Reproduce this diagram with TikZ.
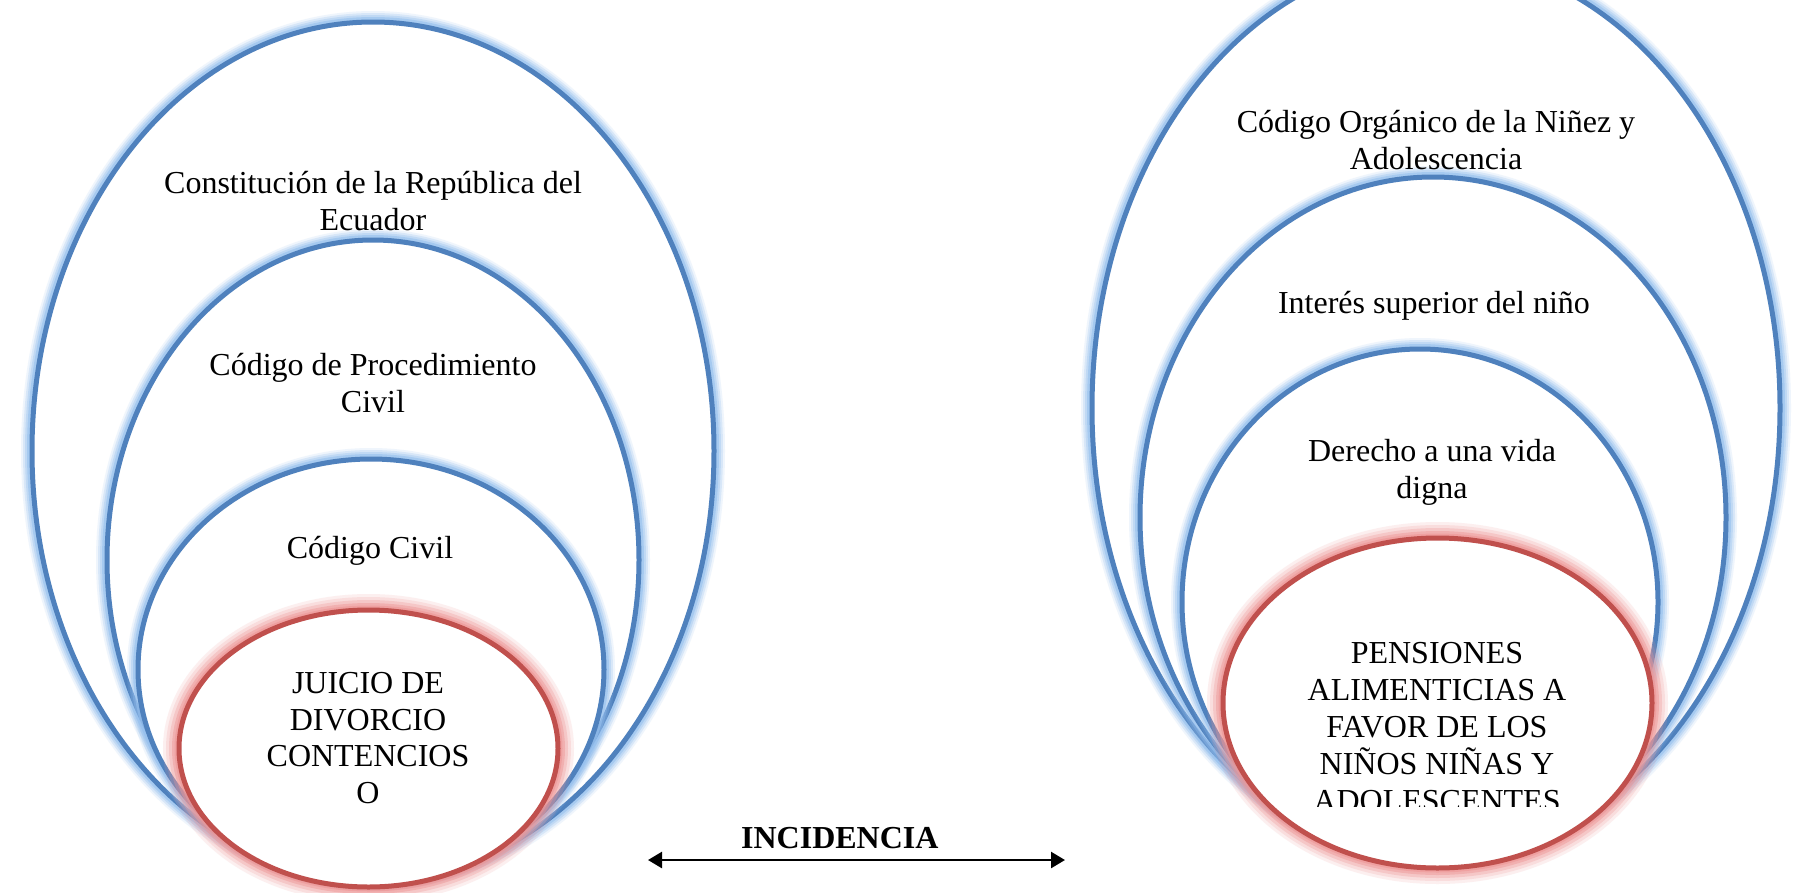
\documentclass[tikz,border=0pt]{standalone}
\usepackage{fontspec}
\setmainfont{Liberation Serif}
\usetikzlibrary{shapes.geometric, arrows.meta}
\definecolor{ringblue}{RGB}{79,129,189}
\definecolor{glowblue}{RGB}{150,192,238}
\definecolor{ringred}{RGB}{192,80,77}
\definecolor{glowred}{RGB}{238,150,150}

\begin{document}
\begin{tikzpicture}[x=1pt, y=-1pt, >={Triangle[length=14pt, width=16pt]},
  ring/.style={ellipse, draw=ringblue, line width=5pt, fill=white, inner sep=0pt,
    preaction={draw=glowblue, line width=22pt, opacity=0.15},
    preaction={draw=glowblue, line width=18pt, opacity=0.25},
    preaction={draw=glowblue, line width=14pt, opacity=0.35},
    preaction={draw=glowblue, line width=10pt, opacity=0.6}},
  core/.style={ellipse, draw=ringred, line width=5pt, fill=white, inner sep=0pt,
    preaction={draw=glowred, line width=32pt, opacity=0.15},
    preaction={draw=glowred, line width=26pt, opacity=0.2},
    preaction={draw=glowred, line width=20pt, opacity=0.3},
    preaction={draw=glowred, line width=14pt, opacity=0.45},
    preaction={draw=glowred, line width=9pt, opacity=0.6}},
  lbl/.style={align=center, inner sep=0pt, font=\fontsize{32}{36.8}\selectfont}]

  \useasboundingbox (0,0) rectangle (1802,892);
  \fill[white] (0,0) rectangle (1802,892);

  % left side
  \node[ring, minimum width=682pt, minimum height=858pt] (ringConst) at (373,451) {};
  \node[ring, minimum width=532pt, minimum height=640pt] (ringProc) at (373,560) {};
  \node[ring, minimum width=466pt, minimum height=421pt] (ringCivil) at (371,669.5) {};
  \node[core, minimum width=379pt, minimum height=277pt] (ringJuicio) at (368.5,748.5) {};

  \node[lbl] (txtConst) at (373,201) {Constitución de la República del\\Ecuador};
  \node[lbl] (txtProc) at (373,383) {Código de Procedimiento\\Civil};
  \node[lbl] (txtCivil) at (370,551) {Código Civil};
  \node[lbl] (txtJuicio) at (368,738) {JUICIO DE\\DIVORCIO\\CONTENCIOS\\O};

  % right side
  \node[ring, minimum width=688pt, minimum height=900pt] (ringCona) at (1436,408) {};
  \node[ring, minimum width=586pt, minimum height=681pt] (ringInteres) at (1433,517.5) {};
  \node[ring, minimum width=476pt, minimum height=506pt] (ringDerecho) at (1420,602) {};
  \node[core, minimum width=429pt, minimum height=330pt] (ringPension) at (1437.5,703) {};

  \node[lbl] (txtCona) at (1436,140) {Código Orgánico de la Niñez y\\Adolescencia};
  \node[lbl] (txtInteres) at (1434,306) {Interés superior del niño};
  \node[lbl] (txtDerecho) at (1432,472) {Derecho a una vida\\digna};
  \begin{scope}
    \clip (1200,600) rectangle (1680,806);
    \node[lbl] (txtPension) at (1437,727) {PENSIONES\\ALIMENTICIAS A\\FAVOR DE LOS\\NIÑOS NIÑAS Y\\ADOLESCENTES};
  \end{scope}

  \coordinate (incL) at (648,860);
  \coordinate (incR) at (1065,860);
  \draw[<->, line width=2.5pt] (incL) -- node[pos=0.46, above=10pt, inner sep=0pt, font=\fontsize{32}{36.8}\selectfont\bfseries] (incid) {INCIDENCIA} (incR);
\end{tikzpicture}
\end{document}
